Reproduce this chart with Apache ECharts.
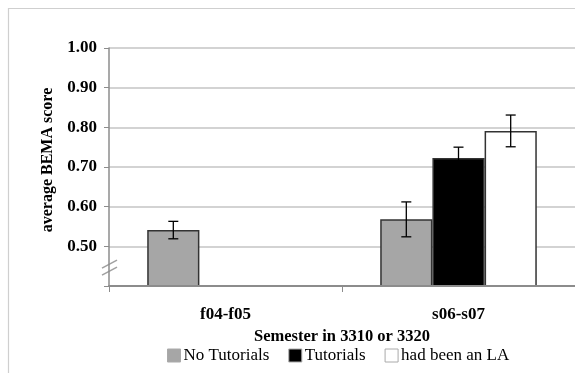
<!DOCTYPE html>
<html><head><meta charset="utf-8">
<script src="https://cdn.jsdelivr.net/npm/echarts@6/dist/echarts.min.js"></script>
<style>html,body{margin:0;padding:0;background:#fff}#c{width:575px;height:373px}</style>
</head><body><div id="c"></div>
<script>
const categories = ['f04-f05', 's06-s07'];
const seriesNames = ['No Tutorials', 'Tutorials', 'had been an LA'];
const noTutorials = [0.541, 0.568];
const tutorials = [null, 0.723];
const hadBeenLA = [null, 0.791];
const noTutorialsErr = [0.022, 0.044];
const tutorialsErr = [null, 0.027];
const hadBeenLAErr = [null, 0.040];
const yTicks = [0.50, 0.60, 0.70, 0.80, 0.90, 1.00];

const FONT = '"Liberation Serif", "Times New Roman", serif';
const colors = ['#a6a6a6', '#000000', '#ffffff'];
const values = [noTutorials, tutorials, hadBeenLA];
const errs = [noTutorialsErr, tutorialsErr, hadBeenLAErr];
const BAR_FRAC = 0.224;

const chart = echarts.init(document.getElementById('c'), null, {renderer: 'canvas'});

const series = [];
values.forEach((v, i) => {
  series.push({
    name: seriesNames[i], type: 'bar', data: v, barWidth: (BAR_FRAC*100)+'%', barGap: '0%',
    itemStyle: {color: colors[i], borderColor: '#333', borderWidth: 1.5},
    z: 2
  });
});
values.forEach((v, i) => {
  const d = [];
  v.forEach((val, k) => { if (val != null) d.push([k, val, errs[i][k]]); });
  series.push({
    type: 'custom', name: seriesNames[i] + ' err', z: 5, silent: true,
    data: d,
    renderItem: function (params, api) {
      const k = api.value(0), val = api.value(1), e = api.value(2);
      const band = api.size([1, 0])[0];
      const bw = band * BAR_FRAC;
      const c = api.coord([k, val]);
      const x = c[0] + (i - 1) * bw;
      const yt = api.coord([k, val + e])[1];
      const yb = api.coord([k, val - e])[1];
      const cap = 5;
      const st = {stroke: '#000', lineWidth: 1.3};
      return {type: 'group', children: [
        {type: 'line', shape: {x1: x, y1: yt, x2: x, y2: yb}, style: st},
        {type: 'line', shape: {x1: x - cap, y1: yt, x2: x + cap, y2: yt}, style: st},
        {type: 'line', shape: {x1: x - cap, y1: yb, x2: x + cap, y2: yb}, style: st}
      ]};
    }
  });
});

chart.setOption({
  animation: false,
  grid: {left: 109, top: 48, width: 468, height: 238, containLabel: false},
  legend: {
    data: seriesNames, left: 162, top: 342, itemWidth: 13, itemHeight: 13, itemGap: 19,
    icon: 'rect',
    itemStyle: {borderColor: '#aaa', borderWidth: 1},
    textStyle: {fontFamily: FONT, fontSize: 17, color: '#000', padding: [0,0,0,-2]}
  },
  xAxis: {
    type: 'category', data: categories,
    name: 'Semester in 3310 or 3320', nameLocation: 'middle', nameGap: 39,
    nameTextStyle: {fontFamily: FONT, fontSize: 16.5, fontWeight: 'bold', color: '#000'},
    axisLine: {lineStyle: {color: '#8c8c8c', width: 2}},
    axisTick: {show: true, length: 6, lineStyle: {color: '#8c8c8c'}},
    axisLabel: {fontFamily: FONT, fontSize: 17, fontWeight: 'bold', color: '#000', margin: 20},
    z: 3
  },
  yAxis: {
    type: 'value', min: 0.4, max: 1.0, interval: 0.1,
    name: 'average BEMA score', nameLocation: 'middle', nameGap: 52, nameRotate: 90,
    nameTextStyle: {fontFamily: FONT, fontSize: 16, fontWeight: 'bold', color: '#000', padding: [0, 0, 0, 14]},
    axisLine: {show: true, lineStyle: {color: '#8c8c8c', width: 1.5}},
    axisTick: {show: true, length: 5, lineStyle: {color: '#8c8c8c'}},
    splitLine: {lineStyle: {color: '#c4c4c4', width: 1.5}},
    axisLabel: {
      fontFamily: FONT, fontSize: 17, fontWeight: 'bold', color: '#000', margin: 12,
      formatter: function (v) {
        const hit = yTicks.find(t => Math.abs(t - v) < 1e-6);
        return hit != null ? hit.toFixed(2) : '';
      }
    }
  },
  series: series
});

// frame and axis-break marks
const p = chart.convertToPixel({gridIndex: 0}, [0, 0.45]);
const yAxisX = 109;
const yb = p[1];
chart.setOption({
  graphic: [
    {type: 'polyline', shape: {points: [[8.5, 400], [8.5, 8.5], [600, 8.5]]}, style: {stroke: '#cfcfcf', lineWidth: 1.2, fill: null}, silent: true},
    {type: 'line', shape: {x1: yAxisX - 7, y1: yb + 9, x2: yAxisX + 8, y2: yb + 1}, style: {stroke: '#a0a0a0', lineWidth: 1.5}, silent: true},
    {type: 'line', shape: {x1: yAxisX - 7, y1: yb + 2, x2: yAxisX + 8, y2: yb - 6}, style: {stroke: '#a0a0a0', lineWidth: 1.5}, silent: true}
  ]
});
</script></body></html>
